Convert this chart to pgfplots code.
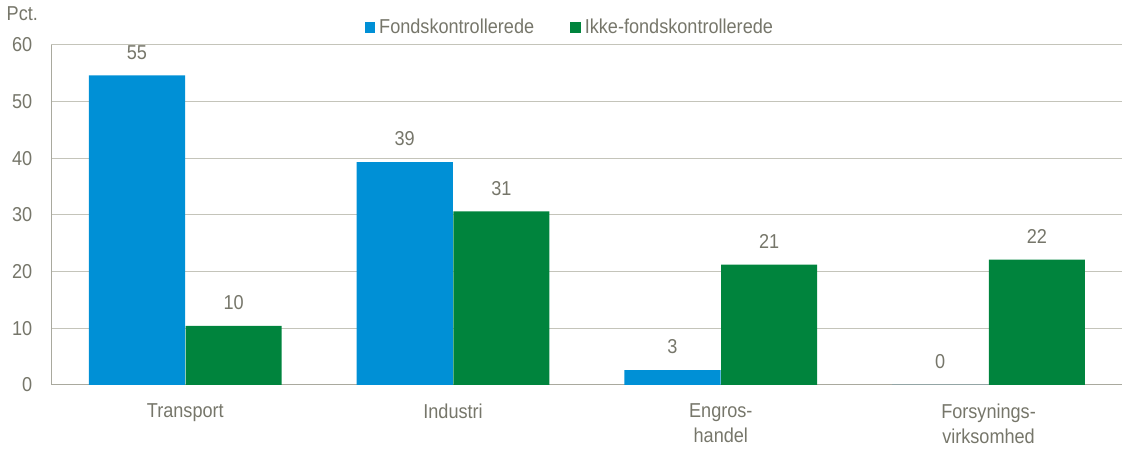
\documentclass[border=0pt]{standalone}
\usepackage{fontspec}
\setmainfont{Liberation Sans}[FakeStretch=0.9]
\usepackage{pgfplots}
\pgfplotsset{compat=1.18}

\definecolor{fondsblue}{HTML}{0090D6}
\definecolor{ikkegreen}{HTML}{00843D}
\definecolor{txtgray}{HTML}{76766A}
\definecolor{gridgray}{HTML}{C4C4BA}
\definecolor{axisgray}{HTML}{A9A99E}

\pgfplotsset{
  sqlegend/.style={legend image code/.code={\fill[##1] (0pt,-2.6pt) rectangle (5.2pt,2.6pt);}}
}
\newcommand{\chartfont}{\fontsize{10}{12.5}\selectfont}

\begin{document}
\begin{tikzpicture}
\begin{axis}[
  ybar,
  scale only axis,
  width=532.5pt, height=169pt,
  xmin=-0.5, xmax=3.5,
  ymin=0, ymax=60,
  ytick={0,10,...,60},
  xtick={0,1,2,3},
  xticklabels={Transport,Industri,Engros-\\handel,Forsynings-\\virksomhed},
  x tick label style={align=center, font=\chartfont, text=txtgray, yshift=-6pt},
  y tick label style={font=\chartfont, text=txtgray, xshift=-6pt},
  /pgf/number format/assume math mode=true,
  major tick length=0pt,
  axis x line*=bottom,
  axis y line*=left,
  axis line style={axisgray, line width=0.6pt},
  ymajorgrids,
  grid style={gridgray, line width=0.6pt},
  nodes near coords,
  nodes near coords style={font=\chartfont, text=txtgray, anchor=center, yshift=11.5pt,
    /pgf/number format/.cd, fixed, precision=0, assume math mode=true},
  legend style={at={(0.485,1)}, anchor=south, draw=none, fill=none, legend columns=2,
    font=\chartfont, text=txtgray,
    /tikz/every even column/.append style={column sep=16pt}},
  clip=false,
]
\addplot[fill=fondsblue, draw=none, bar width=0.359, bar shift=-0.1805, sqlegend]
  coordinates {(0,54.6) (1,39.3) (2,2.6) (3,0)};
\addplot[fill=ikkegreen, draw=none, bar width=0.359, bar shift=0.1805, sqlegend]
  coordinates {(0,10.4) (1,30.6) (2,21.2) (3,22.1)};
\legend{Fondskontrollerede,Ikke-fondskontrollerede}
\node[text=txtgray, font=\chartfont] at ([xshift=-14.5pt, yshift=15.5pt]rel axis cs:0,1) {Pct.};
\end{axis}
\end{tikzpicture}
\end{document}
